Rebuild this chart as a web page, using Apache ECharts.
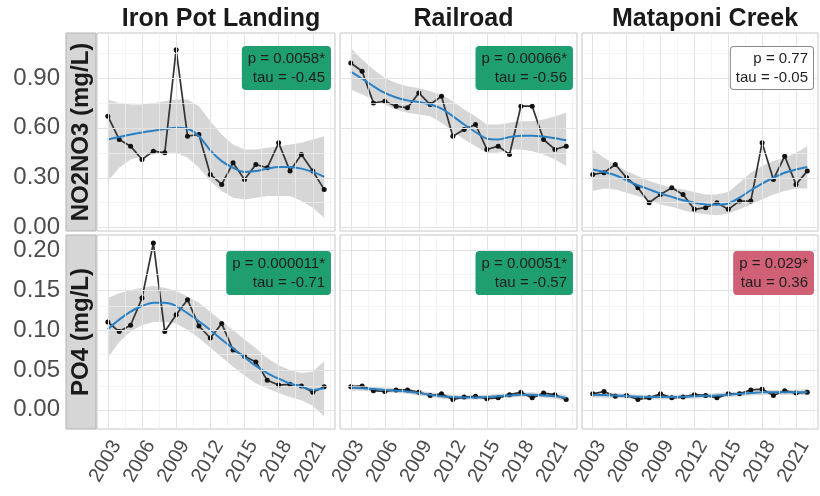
<!DOCTYPE html>
<html>
<head>
<meta charset="utf-8">
<script src="https://cdn.jsdelivr.net/npm/echarts@6/dist/echarts.min.js"></script>
<style>
  html, body { margin: 0; padding: 0; background: #ffffff; }
  #chart { width: 820px; height: 496px; }
</style>
</head>
<body>
<div id="chart"></div>
<script>
// ---- data -------------------------------------------------------------
const years = [2003, 2004, 2005, 2006, 2007, 2008, 2009, 2010, 2011, 2012,
               2013, 2014, 2015, 2016, 2017, 2018, 2019, 2020, 2021, 2022];
const sites = ['Iron Pot Landing', 'Railroad', 'Mataponi Creek'];
const params = ['NO2NO3 (mg/L)', 'PO4 (mg/L)'];

const xTicks = [2003, 2006, 2009, 2012, 2015, 2018, 2021];
const xMinor = [2004.5, 2007.5, 2010.5, 2013.5, 2016.5, 2019.5, 2022.5];
const yTicksNO3 = [0, 0.3, 0.6, 0.9];
const yMinorNO3 = [0.15, 0.45, 0.75, 1.05];
const yTicksPO4 = [0, 0.05, 0.10, 0.15, 0.20];
const yMinorPO4 = [0.025, 0.075, 0.125, 0.175];

// annual observed concentrations
const ironNO3 = [0.67, 0.53, 0.49, 0.41, 0.46, 0.45, 1.07, 0.55, 0.56, 0.32,
                 0.26, 0.39, 0.29, 0.38, 0.36, 0.51, 0.34, 0.44, 0.34, 0.23];
const railNO3 = [0.99, 0.94, 0.75, 0.76, 0.73, 0.72, 0.81, 0.74, 0.79, 0.55,
                 0.59, 0.62, 0.47, 0.49, 0.44, 0.73, 0.73, 0.53, 0.47, 0.49];
const matNO3  = [0.32, 0.33, 0.38, 0.30, 0.24, 0.15, 0.20, 0.24, 0.20, 0.11,
                 0.12, 0.15, 0.11, 0.16, 0.16, 0.51, 0.29, 0.43, 0.26, 0.34];
const ironPO4 = [0.110, 0.098, 0.106, 0.140, 0.209, 0.098, 0.119, 0.138, 0.105, 0.090,
                 0.108, 0.075, 0.067, 0.060, 0.037, 0.031, 0.032, 0.030, 0.022, 0.029];
const railPO4 = [0.029, 0.030, 0.024, 0.023, 0.025, 0.025, 0.022, 0.018, 0.020, 0.013,
                 0.016, 0.017, 0.014, 0.015, 0.019, 0.022, 0.015, 0.021, 0.019, 0.013];
const matPO4  = [0.020, 0.023, 0.017, 0.018, 0.013, 0.015, 0.020, 0.015, 0.016, 0.019,
                 0.018, 0.015, 0.020, 0.020, 0.025, 0.026, 0.018, 0.024, 0.021, 0.022];

// smoothed trend and its confidence band
const ironNO3Fit = [0.53, 0.545, 0.56, 0.572, 0.583, 0.593, 0.60, 0.595, 0.55, 0.465,
                    0.40, 0.36, 0.335, 0.34, 0.355, 0.365, 0.365, 0.355, 0.335, 0.305];
const ironNO3Hi  = [0.77, 0.75, 0.74, 0.74, 0.75, 0.76, 0.77, 0.77, 0.73, 0.64,
                    0.56, 0.50, 0.47, 0.47, 0.48, 0.49, 0.50, 0.51, 0.53, 0.55];
const ironNO3Lo  = [0.28, 0.36, 0.41, 0.43, 0.44, 0.45, 0.45, 0.42, 0.36, 0.28,
                    0.22, 0.18, 0.17, 0.18, 0.19, 0.19, 0.19, 0.16, 0.12, 0.06];

const railNO3Fit = [0.938, 0.895, 0.85, 0.81, 0.782, 0.765, 0.755, 0.74, 0.715, 0.67,
                    0.62, 0.575, 0.535, 0.53, 0.545, 0.552, 0.553, 0.548, 0.538, 0.525];
const railNO3Hi  = [1.08, 1.01, 0.95, 0.90, 0.87, 0.85, 0.84, 0.82, 0.80, 0.76,
                    0.71, 0.67, 0.62, 0.62, 0.63, 0.64, 0.64, 0.65, 0.67, 0.69];
const railNO3Lo  = [0.83, 0.80, 0.77, 0.74, 0.71, 0.69, 0.68, 0.67, 0.63, 0.58,
                    0.53, 0.49, 0.45, 0.45, 0.47, 0.47, 0.46, 0.44, 0.41, 0.37];

const matNO3Fit = [0.35, 0.335, 0.315, 0.285, 0.255, 0.23, 0.205, 0.185, 0.165, 0.15,
                   0.14, 0.138, 0.145, 0.18, 0.225, 0.265, 0.30, 0.33, 0.35, 0.365];
const matNO3Hi  = [0.47, 0.42, 0.38, 0.34, 0.31, 0.28, 0.26, 0.24, 0.23, 0.215,
                   0.20, 0.20, 0.215, 0.27, 0.33, 0.37, 0.40, 0.42, 0.45, 0.49];
const matNO3Lo  = [0.22, 0.235, 0.23, 0.21, 0.19, 0.165, 0.14, 0.125, 0.105, 0.09,
                   0.08, 0.075, 0.085, 0.11, 0.14, 0.17, 0.20, 0.22, 0.235, 0.235];

const ironPO4Fit = [0.101, 0.113, 0.123, 0.130, 0.134, 0.134, 0.130, 0.121, 0.111, 0.100,
                    0.088, 0.077, 0.066, 0.055, 0.046, 0.039, 0.033, 0.029, 0.025, 0.027];
const ironPO4Hi  = [0.140, 0.146, 0.150, 0.153, 0.155, 0.153, 0.149, 0.142, 0.134, 0.123,
                    0.111, 0.100, 0.088, 0.077, 0.065, 0.056, 0.050, 0.046, 0.048, 0.061];
const ironPO4Lo  = [0.065, 0.085, 0.098, 0.106, 0.110, 0.110, 0.108, 0.100, 0.090, 0.078,
                    0.066, 0.054, 0.043, 0.033, 0.027, 0.021, 0.016, 0.012, 0.005, -0.008];

const railPO4Fit = [0.028, 0.027, 0.026, 0.025, 0.024, 0.023, 0.021, 0.019, 0.017, 0.016,
                    0.0155, 0.0155, 0.016, 0.017, 0.018, 0.019, 0.019, 0.018, 0.017, 0.015];
const railPO4Hi  = [0.032, 0.030, 0.029, 0.028, 0.027, 0.026, 0.024, 0.022, 0.020, 0.019,
                    0.018, 0.018, 0.019, 0.020, 0.021, 0.022, 0.022, 0.021, 0.020, 0.019];
const railPO4Lo  = [0.024, 0.024, 0.023, 0.022, 0.021, 0.020, 0.018, 0.016, 0.014, 0.013,
                    0.013, 0.013, 0.013, 0.014, 0.015, 0.016, 0.016, 0.015, 0.014, 0.011];

const matPO4Fit = [0.019, 0.0185, 0.018, 0.0172, 0.0165, 0.016, 0.016, 0.016, 0.0165, 0.017,
                   0.0175, 0.018, 0.019, 0.020, 0.021, 0.022, 0.022, 0.022, 0.022, 0.022];
const matPO4Hi  = [0.023, 0.022, 0.021, 0.020, 0.019, 0.019, 0.019, 0.019, 0.019, 0.020,
                   0.020, 0.021, 0.022, 0.023, 0.024, 0.025, 0.025, 0.025, 0.025, 0.026];
const matPO4Lo  = [0.015, 0.015, 0.015, 0.0145, 0.014, 0.013, 0.013, 0.013, 0.014, 0.014,
                   0.015, 0.015, 0.016, 0.017, 0.018, 0.019, 0.019, 0.019, 0.019, 0.018];

// Mann-Kendall results per panel (row-major: NO2NO3 row, then PO4 row)
const statP   = ['p = 0.0058*', 'p = 0.00066*', 'p = 0.77',
                 'p = 0.000011*', 'p = 0.00051*', 'p = 0.029*'];
const statTau = ['tau = -0.45', 'tau = -0.56', 'tau = -0.05',
                 'tau = -0.71', 'tau = -0.57', 'tau = 0.36'];
const statTrend = ['down', 'down', 'none', 'down', 'down', 'up'];

// ---- layout & styling -------------------------------------------------
const cols = [{ left: 97, width: 238 }, { left: 340, width: 237 }, { left: 582, width: 236 }];
const rows = [{ top: 33, height: 198 }, { top: 235, height: 194 }];
const yRange = [{ min: -0.02, max: 1.17 }, { min: -0.024, max: 0.219 }];
const xRange = { min: 2002.05, max: 2022.95 };
const trendFill = { down: '#1f9e70', up: '#cf6076', none: '#ffffff' };
const trendBorder = { down: '#1f9e70', up: '#cf6076', none: '#8a8a8a' };
const FONT = '"Liberation Sans", Arial, Helvetica, sans-serif';

const panelData = [
  { obs: ironNO3, fit: ironNO3Fit, hi: ironNO3Hi, lo: ironNO3Lo },
  { obs: railNO3, fit: railNO3Fit, hi: railNO3Hi, lo: railNO3Lo },
  { obs: matNO3,  fit: matNO3Fit,  hi: matNO3Hi,  lo: matNO3Lo },
  { obs: ironPO4, fit: ironPO4Fit, hi: ironPO4Hi, lo: ironPO4Lo },
  { obs: railPO4, fit: railPO4Fit, hi: railPO4Hi, lo: railPO4Lo },
  { obs: matPO4,  fit: matPO4Fit,  hi: matPO4Hi,  lo: matPO4Lo }
];

const grid = [], xAxis = [], yAxis = [], series = [], graphic = [], title = [];

const majorLine = { color: '#e3e3e3', width: 1, type: 'solid' };
const minorLine = { color: '#f1f1f1', width: 0.7, type: 'solid' };

for (let r = 0; r < 2; r++) {
  for (let c = 0; c < 3; c++) {
    const i = r * 3 + c;
    const d = panelData[i];
    grid.push({
      left: cols[c].left, top: rows[r].top, width: cols[c].width, height: rows[r].height,
      show: true, borderColor: '#c6c6c6', borderWidth: 1, backgroundColor: '#ffffff',
      containLabel: false
    });
    xAxis.push({
      gridIndex: i, type: 'value', min: xRange.min, max: xRange.max,
      axisLine: { show: false }, axisTick: { show: false }, splitLine: { show: false },
      axisLabel: {
        show: r === 1, customValues: xTicks, rotate: 60, align: 'right', verticalAlign: 'top',
        margin: 8, fontSize: 20, color: '#4d4d4d', fontFamily: FONT,
        formatter: v => String(Math.round(v))
      }
    });
    yAxis.push({
      gridIndex: i, type: 'value', min: yRange[r].min, max: yRange[r].max,
      axisLine: { show: false }, axisTick: { show: false }, splitLine: { show: false },
      axisLabel: {
        show: c === 0, customValues: r === 0 ? yTicksNO3 : yTicksPO4,
        margin: 37, fontSize: 24, color: '#4d4d4d', fontFamily: FONT,
        formatter: v => v.toFixed(2)
      }
    });

    // panel grid lines
    const yMaj = r === 0 ? yTicksNO3 : yTicksPO4;
    const yMin = r === 0 ? yMinorNO3 : yMinorPO4;
    const ml = [];
    yMin.forEach(v => ml.push({ yAxis: v, lineStyle: minorLine }));
    xMinor.forEach(v => ml.push({ xAxis: v, lineStyle: minorLine }));
    yMaj.forEach(v => ml.push({ yAxis: v, lineStyle: majorLine }));
    xTicks.forEach(v => ml.push({ xAxis: v, lineStyle: majorLine }));
    series.push({
      type: 'line', xAxisIndex: i, yAxisIndex: i, data: [], z: 1, silent: true,
      markLine: { silent: true, symbol: 'none', label: { show: false }, animation: false, data: ml }
    });

    // confidence band
    series.push({
      type: 'custom', xAxisIndex: i, yAxisIndex: i, z: 2, silent: true, clip: true,
      data: [[years[0], d.lo[0]]],
      renderItem: (p, api) => {
        const pts = [];
        years.forEach((y, k) => pts.push(api.coord([y, d.hi[k]])));
        for (let k = years.length - 1; k >= 0; k--) pts.push(api.coord([years[k], d.lo[k]]));
        return { type: 'polygon', shape: { points: pts }, style: { fill: '#999999', opacity: 0.4 } };
      }
    });

    // observed values
    series.push({
      type: 'line', xAxisIndex: i, yAxisIndex: i, z: 3, silent: true,
      data: years.map((y, k) => [y, d.obs[k]]),
      symbol: 'circle', symbolSize: 5, showSymbol: true,
      lineStyle: { color: '#333333', width: 1.7 },
      itemStyle: { color: '#111111' }
    });

    // smoothed trend
    series.push({
      type: 'line', xAxisIndex: i, yAxisIndex: i, z: 4, silent: true,
      data: years.map((y, k) => [y, d.fit[k]]),
      smooth: 0.3, showSymbol: false, symbol: 'none',
      lineStyle: { color: '#2a80c5', width: 2 }
    });

    // test result label
    const t = statTrend[i];
    graphic.push({
      type: 'text', z: 100,
      x: cols[c].left + cols[c].width - 5, y: rows[r].top + (r === 0 ? 14 : 17),
      style: {
        text: statP[i] + '\n' + statTau[i],
        align: 'right', verticalAlign: 'top',
        fontSize: 15, fontFamily: FONT, lineHeight: 19, fill: '#1e1e1e',
        backgroundColor: trendFill[t], borderColor: trendBorder[t], borderWidth: 1,
        borderRadius: 3, padding: [2, 5, 2, 5]
      }
    });
  }
}

// column headers
sites.forEach((s, c) => {
  title.push({
    text: s, left: cols[c].left + cols[c].width / 2, top: 2, textAlign: 'center',
    textStyle: { fontSize: 25, fontWeight: 'bold', color: '#1a1a1a', fontFamily: FONT }
  });
});

// row strips
params.forEach((p, r) => {
  graphic.push({
    type: 'rect', z: 50,
    shape: { x: 66, y: rows[r].top, width: 30, height: rows[r].height },
    style: { fill: '#d6d6d6', stroke: '#b3b3b3', lineWidth: 1 }
  });
  graphic.push({
    type: 'text', z: 51,
    x: 81, y: rows[r].top + rows[r].height / 2, rotation: Math.PI / 2,
    style: {
      text: p, align: 'center', verticalAlign: 'middle',
      fontSize: 24, fontWeight: 'bold', fontFamily: FONT, fill: '#1a1a1a'
    }
  });
});

const chart = echarts.init(document.getElementById('chart'), null, { renderer: 'canvas' });
chart.setOption({
  animation: false,
  backgroundColor: '#ffffff',
  title, grid, xAxis, yAxis, series, graphic
});
</script>
</body>
</html>
